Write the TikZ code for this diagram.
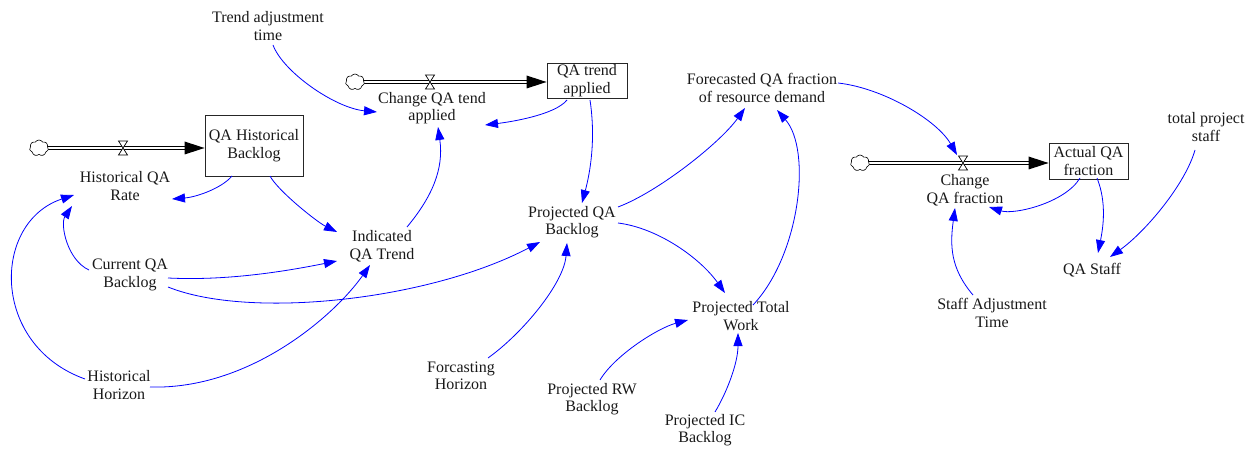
\documentclass[tikz,border=0pt]{standalone}
\usepackage{fontspec}
\setmainfont{Liberation Serif}
\usetikzlibrary{arrows.meta,shapes.symbols,calc}

\tikzset{
  pics/valvepic/.style={code={
    \draw[draw=black, fill=white, line width=0.7pt]
      (-4.5,-7) -- (4.5,-7) -- (-4.5,7) -- (4.5,7) -- cycle;}}
}

\begin{document}
\begin{tikzpicture}[x=1pt,y=-1pt,
  var/.style={align=center, inner sep=1pt, font=\fontsize{16}{17.5}\selectfont, text=black!90},
  stock/.style={var, draw=black!85, line width=0.9pt, inner sep=0pt},
  link/.style={draw=blue, line width=0.8pt, -{Triangle[length=13pt,width=9pt]}},
  pipe/.style={draw=black, double=white, double distance=2.4pt, line width=0.8pt},
  source/.style={cloud, draw=black, fill=white, cloud puffs=7, cloud puff arc=120, aspect=1.25,
    minimum width=19pt, minimum height=16pt, inner sep=0pt, line width=0.6pt},
  flowhead/.style={fill=black}
]
\useasboundingbox (0,0) rectangle (1256,449);

% ---- stocks ----
\node[stock, minimum width=98pt, minimum height=61pt] (qhb) at (254,145.5) {QA Historical\\Backlog};
\node[stock, minimum width=80pt, minimum height=35pt] (qta) at (587,80.5) {QA trend\\applied};
\node[stock, minimum width=79pt, minimum height=36pt] (aqf) at (1088.5,161) {Actual QA\\fraction};

% ---- flows: source cloud, pipe, valve, head ----
\coordinate (v1) at (123,148);
\coordinate (v2) at (430,82);
\coordinate (v3) at (963,163);
\coordinate (h1) at (qhb.west |- v1);
\coordinate (h2) at (qta.west |- v2);
\coordinate (h3) at (aqf.west |- v3);
\coordinate (c1) at (39,148);
\coordinate (c2) at (355,82);
\coordinate (c3) at (860,163);

\draw[pipe] (c1) -- ($(h1)+(-19,0)$);
\draw[pipe] (c2) -- ($(h2)+(-19,0)$);
\draw[pipe] (c3) -- ($(h3)+(-19,0)$);
\node[source] at (c1) {};
\node[source] at (c2) {};
\node[source] at (c3) {};
\fill[flowhead] ($(h1)+(-20,-6.5)$) -- (h1) -- ($(h1)+(-20,6.5)$) -- cycle;
\fill[flowhead] ($(h2)+(-20,-6.5)$) -- (h2) -- ($(h2)+(-20,6.5)$) -- cycle;
\fill[flowhead] ($(h3)+(-20,-6.5)$) -- (h3) -- ($(h3)+(-20,6.5)$) -- cycle;
\pic at (v1) {valvepic};
\pic at (v2) {valvepic};
\pic at (v3) {valvepic};

% ---- auxiliaries and rates ----
\node[var] (tat) at (268,26) {Trend adjustment\\time};
\node[var] (cqt) at (432,108) {Change QA tend\\applied};
\node[var] (fqa) at (762,88) {Forecasted QA fraction\\of resource demand};
\node[var] (tps) at (1206,127) {total project\\staff};
\node[var] (hqr) at (125,186) {Historical QA\\Rate};
\node[var] (cqf) at (965,190) {Change\\QA fraction};
\node[var] (iqt) at (382,246) {Indicated\\QA Trend};
\node[var] (pqb) at (572,222) {Projected QA\\Backlog};
\node[var] (cqb) at (130,275) {Current QA\\Backlog};
\node[var] (qas) at (1092,270) {QA Staff};
\node[var] (ptw) at (741,316) {Projected Total\\Work};
\node[var] (sat) at (992,313) {Staff Adjustment\\Time};
\node[var] (fh) at (461,376) {Forcasting\\Horizon};
\node[var] (hh) at (119,385) {Historical\\Horizon};
\node[var] (prw) at (592,399) {Projected RW\\Backlog};
\node[var] (picb) at (705,430) {Projected IC\\Backlog};

% ---- information links ----
\draw[link] ($(tat.center)+(5,19)$) .. controls +(10,27) and +(-42,-4) .. ($(cqt.center)+(-55,4)$);
\draw[link] ($(qta.center)+(-20,19.5)$) .. controls +(-12,15) and +(25,-3) .. ($(cqt.center)+(53,17)$);
\draw[link] ($(iqt.center)+(25,-19)$) .. controls +(25,-30) and +(6,42) .. ($(cqt.center)+(6,19)$);
\draw[link] ($(qhb.center)+(-22,30.5)$) .. controls +(-10,12) and +(25,-2) .. ($(hqr.center)+(47,13)$);
\draw[link] ($(qhb.center)+(16,30.5)$) .. controls +(8,15) and +(-20,-10) .. ($(iqt.center)+(-45,-14)$);
\draw[link] ($(cqb.center)+(-41,-5)$) .. controls +(-22,-10) and +(-12,18) .. ($(hqr.center)+(-53,20)$);
\draw[link] ($(hh.center)+(-34,-6)$) .. controls +(-95,-34) and +(-82,27) .. ($(hqr.center)+(-51,9)$);
\draw[link] ($(cqb.center)+(38,3)$) .. controls +(60,3) and +(-50,10) .. ($(iqt.center)+(-45,15)$);
\draw[link] ($(hh.center)+(31,2)$) .. controls +(100,3) and +(-35,50) .. ($(iqt.center)+(-12,19)$);
\draw[link] ($(cqb.center)+(38,12)$) .. controls +(82,33) and +(-110,58) .. ($(pqb.center)+(-32,20)$);
\draw[link] ($(qta.center)+(3,19.5)$) .. controls +(6,40) and +(8,-30) .. ($(pqb.center)+(10,-19)$);
\draw[link] ($(pqb.center)+(46,-15)$) .. controls +(40,-15) and +(-25,35) .. ($(fqa.center)+(-17,20)$);
\draw[link] ($(pqb.center)+(46,1)$) .. controls +(40,5) and +(-25,-35) .. ($(ptw.center)+(-16,-23)$);
\draw[link] ($(fh.center)+(27,-18)$) .. controls +(35,-25) and +(-3,40) .. ($(pqb.center)+(-5,21)$);
\draw[link] ($(ptw.center)+(12,-11)$) .. controls +(47,-50) and +(35,40) .. ($(fqa.center)+(15,22)$);
\draw[link] ($(fqa.center)+(76,-5)$) .. controls +(45,5) and +(-20,-35) .. ($(v3)+(-6,-8)$);
\draw[link] ($(aqf.center)+(-8.5,17)$) .. controls +(-15,25) and +(25,8) .. ($(cqf.center)+(24,17)$);
\draw[link] ($(aqf.center)+(8.5,17)$) .. controls +(10,25) and +(5,-25) .. ($(qas.center)+(6,-17)$);
\draw[link] ($(tps.center)+(-11,23)$) .. controls +(-10,35) and +(35,-25) .. ($(qas.center)+(18,-13)$);
\draw[link] ($(sat.center)+(-19,-18)$) .. controls +(-23,-27) and +(-5,37) .. ($(cqf.center)+(-10,18)$);
\draw[link] ($(prw.center)+(8,-19)$) .. controls +(15,-25) and +(-30,8) .. ($(ptw.center)+(-53,4)$);
\draw[link] ($(picb.center)+(10,-18)$) .. controls +(12,-20) and +(0,30) .. ($(ptw.center)+(-3,17)$);
\end{tikzpicture}
\end{document}
